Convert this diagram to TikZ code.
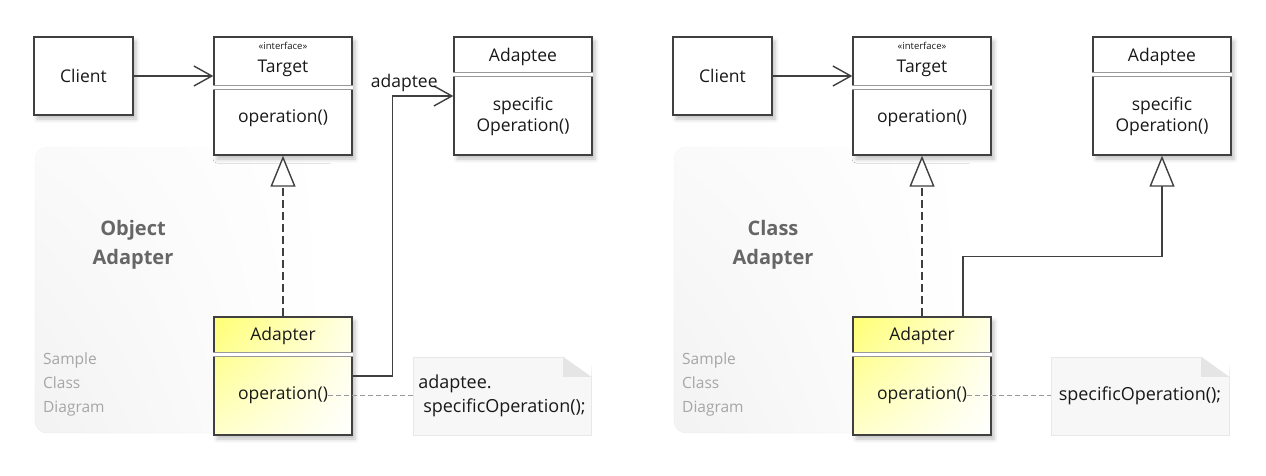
\documentclass[tikz,border=0pt]{standalone}
\usepackage{fontspec}
\setmainfont{Open Sans}
\usetikzlibrary{arrows.meta,shadows.blur,shadings}

\begin{document}
\begin{tikzpicture}[x=1pt,y=-1pt]
\tikzstyle{every node}=[font=\fontsize{17.5}{21}\selectfont, text=black!90, inner sep=0pt]
\tikzstyle{cls}=[rectangle, draw=black!75, line width=1.4pt, fill=white, minimum width=138pt, minimum height=118pt,
  blur shadow={shadow xshift=3pt, shadow yshift=-4pt, shadow blur radius=4pt, shadow opacity=25}]
\tikzstyle{hot}=[cls, shade, upper left=yellow!55, upper right=yellow!10, lower left=yellow!20, lower right=white]
\tikzstyle{comp}=[draw=black!40, double=white, double distance=3.5pt, line width=0.8pt]
\tikzstyle{conn}=[draw=black!75, line width=1.4pt]
\tikzstyle{assoc}=[conn, -{Straight Barb[length=18pt,width=20pt]}]
\tikzstyle{realize}=[conn, dash pattern=on 8pt off 4pt, -{Triangle[open,length=31pt,width=25pt,fill=white]}]
\tikzstyle{general}=[conn, -{Triangle[open,length=31pt,width=25pt,fill=white]}]
\tikzstyle{notebox}=[rectangle, draw=black!9, fill=black!3, minimum width=178pt, minimum height=78pt, align=left,
  font=\fontsize{18}{24}\selectfont]
\tikzstyle{notelink}=[draw=black!40, line width=0.8pt, dash pattern=on 5pt off 3pt]
\tikzstyle{panel}=[rounded corners=12pt, upper left=black!2, lower left=black!5, upper right=white, lower right=white]
\tikzstyle{paneltitle}=[font=\fontsize{20}{29}\selectfont\bfseries, text=black!60, align=center]
\tikzstyle{panelnote}=[font=\fontsize{15.5}{24}\selectfont, text=black!35, align=left, anchor=west]

\useasboundingbox (0,0) rectangle (1266,476);

% object adapter
\begin{scope}[name prefix=o-]
\shade[panel] (35,147) rectangle (330,433);
\draw[black!8, rounded corners=12pt] (35,200) -- (35,433) -- (214,433);
\draw[black!4, rounded corners=12pt] (35,200) -- (35,147) -- (110,147);
\node[paneltitle] at (133,245) {Object\\Adapter};
\node[panelnote] at (43,384) {Sample\\Class\\Diagram};

\node[cls, minimum width=99pt, minimum height=78pt] (client) at (83.5,76) {Client};

\node[cls] (target) at (283,96) {};
\node[font=\fontsize{9.5}{11}\selectfont] at ([yshift=-10pt]target.north) {«interface»};
\node at ([yshift=-32pt]target.north) {Target};
\draw[comp] ([yshift=-51pt]target.north west) -- ([yshift=-51pt]target.north east);
\node at ([yshift=-82pt]target.north) {operation()};

\node[cls] (adaptee) at (523,96) {};
\node at ([yshift=-20.5pt]adaptee.north) {Adaptee};
\draw[comp] ([yshift=-38.3pt]adaptee.north west) -- ([yshift=-38.3pt]adaptee.north east);
\node[align=center, font=\fontsize{17.5}{21.5}\selectfont] at ([yshift=-80pt]adaptee.north) {specific\\Operation()};

\node[hot] (adapter) at (283,376) {};
\node at ([yshift=-19.5pt]adapter.north) {Adapter};
\draw[comp] ([yshift=-38.3pt]adapter.north west) -- ([yshift=-38.3pt]adapter.north east);
\node (adop) at ([yshift=-79pt]adapter.north) {operation()};

\node[notebox] (note) at (502,396) {adaptee.\\\hspace{5pt}specificOperation();};
\fill[white] ([xshift=-28pt]note.north east) -- ([xshift=1pt,yshift=1pt]note.north east) -- ([yshift=-20pt]note.north east) -- cycle;
\fill[black!10] ([xshift=-28pt]note.north east) -- ([xshift=-28pt,yshift=-20pt]note.north east) -- ([yshift=-20pt]note.north east) -- cycle;

\draw[assoc] (client) -- (client -| target.west);
\draw[realize] (adapter) -- (target);
\draw[assoc] (adapter.east) -| ([xshift=-61pt]adaptee.west)
  -- node[pos=1, anchor=south east, xshift=-15pt, yshift=4pt] {adaptee} (adaptee.west);
\draw[notelink] (adop.east) -- (adop.east -| note.west);
\end{scope}

% class adapter
\begin{scope}[xshift=639pt, name prefix=c-]
\shade[panel] (35,147) rectangle (330,433);
\draw[black!8, rounded corners=12pt] (35,200) -- (35,433) -- (214,433);
\draw[black!4, rounded corners=12pt] (35,200) -- (35,147) -- (110,147);
\node[paneltitle] at (134,245) {Class\\Adapter};
\node[panelnote] at (43,384) {Sample\\Class\\Diagram};

\node[cls, minimum width=99pt, minimum height=78pt] (client) at (83.5,76) {Client};

\node[cls] (target) at (283,96) {};
\node[font=\fontsize{9.5}{11}\selectfont] at ([yshift=-10pt]target.north) {«interface»};
\node at ([yshift=-32pt]target.north) {Target};
\draw[comp] ([yshift=-51pt]target.north west) -- ([yshift=-51pt]target.north east);
\node at ([yshift=-82pt]target.north) {operation()};

\node[cls] (adaptee) at (523,96) {};
\node at ([yshift=-20.5pt]adaptee.north) {Adaptee};
\draw[comp] ([yshift=-38.3pt]adaptee.north west) -- ([yshift=-38.3pt]adaptee.north east);
\node[align=center, font=\fontsize{17.5}{21.5}\selectfont] at ([yshift=-80pt]adaptee.north) {specific\\Operation()};

\node[hot] (adapter) at (283,376) {};
\node at ([yshift=-19.5pt]adapter.north) {Adapter};
\draw[comp] ([yshift=-38.3pt]adapter.north west) -- ([yshift=-38.3pt]adapter.north east);
\node (adop) at ([yshift=-79pt]adapter.north) {operation()};

\node[notebox] (note) at (501,396) {specificOperation();};
\fill[white] ([xshift=-28pt]note.north east) -- ([xshift=1pt,yshift=1pt]note.north east) -- ([yshift=-20pt]note.north east) -- cycle;
\fill[black!10] ([xshift=-28pt]note.north east) -- ([xshift=-28pt,yshift=-20pt]note.north east) -- ([yshift=-20pt]note.north east) -- cycle;

\draw[assoc] (client) -- (client -| target.west);
\draw[realize] (adapter) -- (target);
\draw[general] ([xshift=41pt]adapter.north) -- ++(0,-60) -| (adaptee.south);
\draw[notelink] (adop.east) -- (adop.east -| note.west);
\end{scope}
\end{tikzpicture}
\end{document}
